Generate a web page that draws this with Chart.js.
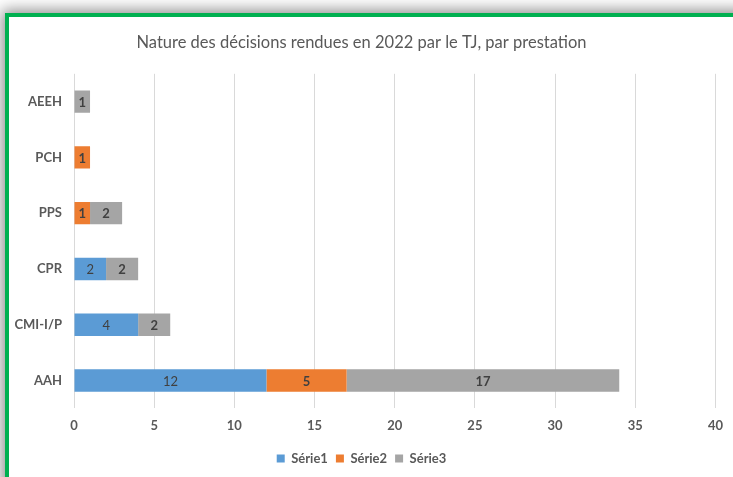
<!DOCTYPE html>
<html>
<head>
<meta charset="utf-8">
<script src="https://cdn.jsdelivr.net/npm/chart.js@4.4.0/dist/chart.umd.min.js"></script>
<style>
    html, body { margin: 0; padding: 0; background: #fff; overflow: hidden; }
    #frame {
        position: absolute; left: 5px; top: 13px; width: 800px; height: 600px;
        border: 4px solid #00B050; box-shadow: 0 0 14px 3px rgba(0, 0, 0, 0.45);
        background: #fff;
    }
    #wrap { position: absolute; left: 0; top: 0; width: 733px; height: 477px; }
</style>
</head>
<body>
<div id="frame"></div>
<div id="wrap"><canvas id="chart" width="733" height="477"></canvas></div>
<script>
const categories = ["AEEH", "PCH", "PPS", "CPR", "CMI-I/P", "AAH"];
const serie1 = [0, 0, 0, 2, 4, 12];
const serie2 = [0, 1, 1, 0, 0, 5];
const serie3 = [1, 0, 2, 2, 2, 17];
const xTicks = [0, 5, 10, 15, 20, 25, 30, 35, 40];

const FONT = "Lato, 'Noto Sans', sans-serif";

// draw the value inside each bar segment
const barLabels = {
    id: "barLabels",
    afterDatasetsDraw(chart) {
        const ctx = chart.ctx;
        ctx.save();
        ctx.textAlign = "center";
        ctx.textBaseline = "middle";
        ctx.fillStyle = "#404040";
        chart.data.datasets.forEach((ds, i) => {
            const meta = chart.getDatasetMeta(i);
            ctx.font = (i === 0 ? "normal " : "bold ") + "13px " + FONT;
            meta.data.forEach((bar, j) => {
                const v = ds.data[j];
                if (!v) return;
                const x = (bar.x + bar.base) / 2;
                ctx.fillText(String(v), x, bar.y + 1);
            });
        });
        ctx.restore();
    }
};

new Chart(document.getElementById("chart"), {
    type: "bar",
    data: {
        labels: categories,
        datasets: [
            { label: "Série1", data: serie1, backgroundColor: "#5B9BD5" },
            { label: "Série2", data: serie2, backgroundColor: "#ED7D31" },
            { label: "Série3", data: serie3, backgroundColor: "#A5A5A5" }
        ]
    },
    options: {
        indexAxis: "y",
        responsive: false,
        animation: false,
        categoryPercentage: 1,
        barPercentage: 0.4,
        layout: { padding: { left: 0, right: 10, top: 0, bottom: 2 } },
        scales: {
            x: {
                stacked: true,
                min: 0,
                max: 40,
                afterBuildTicks: (scale) => { scale.ticks = xTicks.map(v => ({ value: v })); },
                grid: { color: "#D9D9D9", drawTicks: false },
                border: { display: false },
                ticks: {
                    padding: 10,
                    color: "#595959",
                    font: { family: FONT, size: 13, weight: "bold" }
                }
            },
            y: {
                stacked: true,
                grid: { display: false },
                border: { display: false },
                afterFit: (scale) => { scale.width = 74; },
                ticks: {
                    padding: 4,
                    color: "#595959",
                    font: { family: FONT, size: 13, weight: "bold" }
                }
            }
        },
        plugins: {
            title: {
                display: true,
                text: "Nature des décisions rendues en 2022 par le TJ, par prestation",
                color: "#595959",
                font: { family: FONT, size: 16.5, weight: "normal", lineHeight: 1.2 },
                padding: { top: 33, bottom: 21 }
            },
            legend: {
                position: "bottom",
                labels: {
                    boxWidth: 8,
                    boxHeight: 8,
                    padding: 8,
                    color: "#595959",
                    font: { family: FONT, size: 13, weight: "bold" }
                }
            },
            tooltip: { enabled: false }
        }
    },
    plugins: [barLabels]
});
</script>
</body>
</html>
